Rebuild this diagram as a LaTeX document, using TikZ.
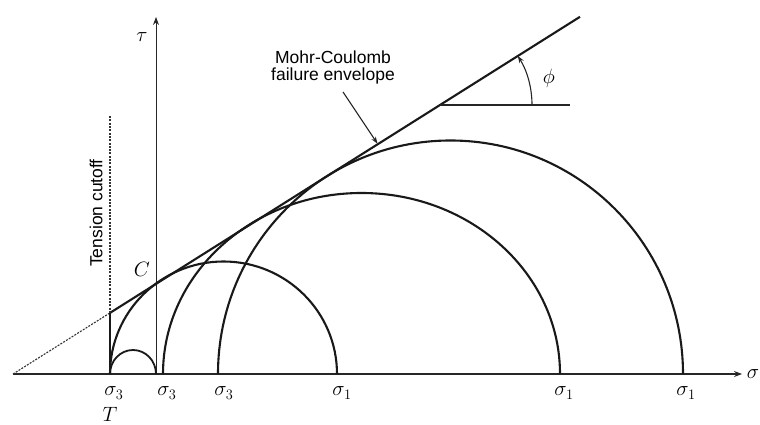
\documentclass[tikz,border=0pt]{standalone}
\usepackage{fontspec}
\setsansfont{Liberation Sans}
\usetikzlibrary{arrows.meta}
\tikzset{
  curve/.style={line width=2.1pt, black!90},
  axisln/.style={line width=1.2pt, black!85, -{Stealth[length=8pt,width=6pt]}},
  thinln/.style={line width=1.1pt, black!85},
  dashln/.style={line width=1.1pt, black!80, dash pattern=on 2pt off 1.3pt},
  mlbl/.style={inner sep=0pt, font=\fontsize{21.5}{23}\selectfont},
  stxt/.style={inner sep=0pt, font=\sffamily\fontsize{17.5}{20}\selectfont}
}
\begin{document}
\begin{tikzpicture}[x=1pt,y=1pt]
\useasboundingbox (0,0) rectangle (760,425);
% key points
\coordinate (O) at (13,51);
\coordinate (sx) at (742,51);
\coordinate (t0) at (156,51);
\coordinate (ttop) at (156,408);
\coordinate (Tc) at (110,51);
\coordinate (E1) at (110,112.1);
\coordinate (Etop) at (580,408.2);
\coordinate (Ttop) at (110,310);
\coordinate (phiA) at (440,320);
\coordinate (phiB) at (570,320);
% axes
\draw[axisln] (O) -- (sx);
\draw[axisln, line width=1pt] (t0) -- (ttop);
% envelope
\draw[dashln] (O) -- (E1);
\draw[curve] (E1) -- (Etop);
% tension cutoff
\draw[dashln] (E1) -- (Ttop);
\draw[curve] (Tc) -- (E1);
% Mohr circles
\draw[curve, line width=1.8pt] (Tc) arc[start angle=180, end angle=0, x radius=23, y radius=24];
\draw[curve] (Tc) arc[start angle=180, end angle=0, x radius=113.5, y radius=112.5];
\draw[curve] (163,51) arc[start angle=180, end angle=0, x radius=198.5, y radius=181];
\draw[curve] (218,51) arc[start angle=180, end angle=0, x radius=232.5, y radius=233.5];
% phi angle
\draw[thinln] (phiA) -- (phiB);
\draw[thinln, -{Stealth[length=7pt,width=5pt]}] ([shift={(92,0)}]phiA) arc[start angle=0, end angle=32.2, radius=92];
\node[mlbl] (phi) at (549,347) {$\phi$};
% labels
\node[mlbl] (tau) at (142,388) {$\tau$};
\node[mlbl] (sig) at (753,51) {$\sigma$};
\node[mlbl] (C) at (142,156) {$C$};
\node[mlbl] (s3a) at (114,32) {$\sigma_3$};
\node[mlbl] (s3b) at (167,32) {$\sigma_3$};
\node[mlbl] (s3c) at (224,32) {$\sigma_3$};
\node[mlbl] (T) at (110,11) {$T$};
\node[mlbl] (s1a) at (342,32) {$\sigma_1$};
\node[mlbl] (s1b) at (564,32) {$\sigma_1$};
\node[mlbl] (s1c) at (686,32) {$\sigma_1$};
\node[stxt, rotate=90] (tens) at (96,212) {Tension cutoff};
\node[stxt] (mc1) at (333,368) {Mohr-Coulomb};
\node[stxt, anchor=north] (mc2) at (333,357) {failure envelope};
\coordinate (arrtip) at (377.5,281.3);
\draw[thinln, -{Stealth[length=7pt,width=5pt]}] (343,333) -- (arrtip);
\end{tikzpicture}
\end{document}
